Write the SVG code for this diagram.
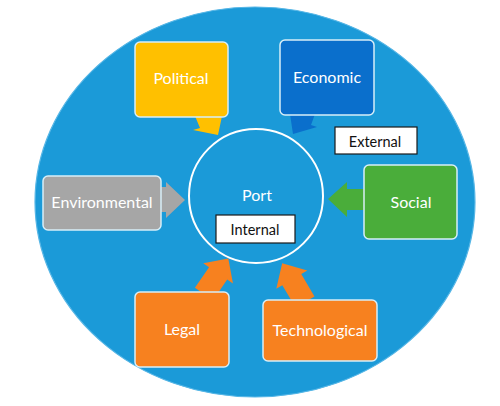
<svg xmlns="http://www.w3.org/2000/svg" width="500" height="406" viewBox="0 0 500 406">
<style>
.box{stroke:#d8eef8;stroke-width:1.5}
.lbl{font-family:Lato,"Liberation Sans",sans-serif;font-size:16px;fill:#ffffff;text-anchor:middle}
.tag{fill:#ffffff;stroke:#1a1a1a;stroke-width:1.2}
.tagt{font-family:Lato,"Liberation Sans",sans-serif;font-size:14.5px;fill:#111111;text-anchor:middle}
</style>
<rect width="500" height="406" fill="#ffffff"/>
<g id="background">
<ellipse cx="255" cy="202" rx="220" ry="195" fill="#1b9ad8" stroke="#56b6e6" stroke-width="1.2"/>
</g>
<g id="connectors">
<polygon points="160,187 166,187 166,182 185,200 166,218 166,212 160,212" fill="#a6a6a6"/>
<polygon points="364,189 347,189 347,182 328,199 347,217 347,210 364,210" fill="#4aad3a"/>
<polygon transform="translate(204,294) rotate(-55.6)" points="0,-11 25,-11 25,-18 43,0 25,18 25,11 0,11" fill="#f7811f"/>
<polygon transform="translate(305,302) rotate(-120.5)" points="0,-11 26,-11 26,-18 45,0 26,18 26,11 0,11" fill="#f7811f"/>
</g>
<g id="port">
<circle cx="256" cy="196" r="67" fill="none" stroke="#ffffff" stroke-width="2"/>
<text class="lbl" x="257" y="201" font-size="17.5">Port</text>
</g>
<g id="internal">
<rect class="tag" x="216" y="215" width="79" height="28"/>
<text class="tagt" x="255" y="235">Internal</text>
</g>
<g id="external">
<rect class="tag" x="335" y="127" width="82" height="27"/>
<text class="tagt" x="375" y="147">External</text>
</g>
<g id="political">
<polygon points="195,116 200,128 193,130 218,135 222,116" fill="#ffc000"/>
<rect class="box" x="135" y="42" width="93" height="75" rx="5" fill="#ffc000"/>
<text class="lbl" x="181" y="84">Political</text>
</g>
<g id="economic">
<polygon points="290,114 293,134 317,127 311,125 315,114" fill="#0a6fcc"/>
<rect class="box" x="280" y="40" width="94" height="75" rx="5" fill="#0a6fcc"/>
<text class="lbl" x="327" y="83">Economic</text>
</g>
<g id="environmental">
<rect class="box" x="43" y="176" width="118" height="54" rx="5" fill="#a6a6a6"/>
<text class="lbl" x="102" y="208">Environmental</text>
</g>
<g id="social">
<rect class="box" x="364" y="165" width="93" height="74" rx="5" fill="#4aad3a"/>
<text class="lbl" x="411" y="208">Social</text>
</g>
<g id="legal">
<rect class="box" x="135" y="292" width="94" height="75" rx="5" fill="#f7811f"/>
<text class="lbl" x="182" y="335">Legal</text>
</g>
<g id="technological">
<rect class="box" x="263" y="300" width="114" height="61" rx="5" fill="#f7811f"/>
<text class="lbl" x="320" y="336">Technological</text>
</g>
</svg>
